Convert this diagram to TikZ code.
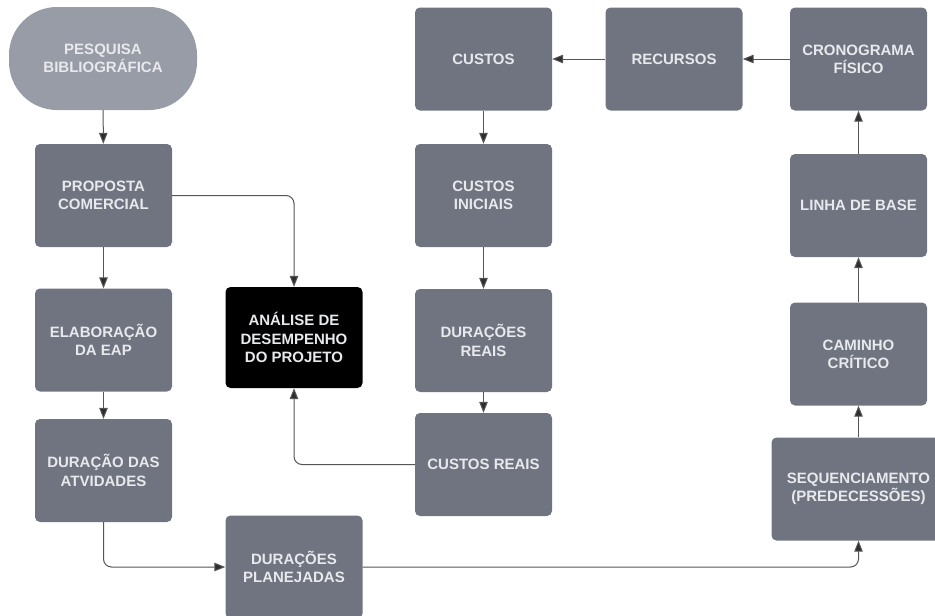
\documentclass[tikz,border=0pt]{standalone}
\usepackage{fontspec}
\setmainfont{Liberation Sans}
\usetikzlibrary{arrows.meta}
\definecolor{boxgray}{HTML}{6F7480}
\definecolor{startgray}{HTML}{979CA6}
\definecolor{boxtext}{HTML}{E8E9EC}
\definecolor{linkgray}{HTML}{555555}
\definecolor{tipgray}{HTML}{2E2E2E}
\begin{document}
\begin{tikzpicture}[x=1pt,y=-1pt,
  stepbox/.style={rectangle, rounded corners=5pt, fill=boxgray, text=boxtext,
    minimum width=137pt, minimum height=103pt, inner sep=0pt, align=center,
    font=\fontsize{15}{18.3}\selectfont\bfseries},
  startbox/.style={stepbox, fill=startgray, rounded corners=48pt, minimum width=188pt},
  keybox/.style={stepbox, fill=black, minimum height=101pt},
  link/.style={draw=linkgray, line width=1pt, rounded corners=8pt,
    -{Triangle[length=11pt,width=8.5pt,fill=tipgray]}}
]
\useasboundingbox (0,0) rectangle (935,616);

% left column
\node[startbox] (pesq) at (103,58.5) {PESQUISA\\BIBLIOGRÁFICA};
\node[stepbox] (prop) at (103.5,195.5) {PROPOSTA\\COMERCIAL};
\node[stepbox] (elab) at (103.5,340) {ELABORAÇÃO\\DA EAP};
\node[stepbox] (dura) at (103.5,470.5) {DURAÇÃO DAS\\ATVIDADES};

% second column
\node[keybox] (anal) at (294,337.5) {ANÁLISE DE\\DESEMPENHO\\DO PROJETO};
\node[stepbox] (plan) at (294,567) {DURAÇÕES\\PLANEJADAS};

% cost column
\node[stepbox] (cust) at (483.5,59) {CUSTOS};
\node[stepbox] (cini) at (483.5,195.5) {CUSTOS\\INICIAIS};
\node[stepbox] (dreal) at (483.5,340.5) {DURAÇÕES\\REAIS};
\node[stepbox] (creal) at (483.5,464.5) {CUSTOS REAIS};

% resources and schedule
\node[stepbox] (recu) at (674,59) {RECURSOS};
\node[stepbox] (cron) at (858.5,59) {CRONOGRAMA\\FÍSICO};
\node[stepbox] (lbase) at (858.5,205.5) {LINHA DE BASE};
\node[stepbox] (camin) at (858.5,354) {CAMINHO\\CRÍTICO};
\node[stepbox, minimum width=174pt] (seq) at (858.5,489) {SEQUENCIAMENTO\\(PREDECESSÕES)};

% connectors
\draw[link] (pesq) -- (prop);
\draw[link] (prop) -- (elab);
\draw[link] (elab) -- (dura);
\draw[link] (prop.east) -| (anal.north);
\draw[link] (creal.west) -| (anal.south);
\draw[link] (dura.south) |- (plan.west);
\draw[link] (plan.east) -| (seq.south);
\draw[link] (seq) -- (camin);
\draw[link] (camin) -- (lbase);
\draw[link] (lbase) -- (cron);
\draw[link] (cron) -- (recu);
\draw[link] (recu) -- (cust);
\draw[link] (cust) -- (cini);
\draw[link] (cini) -- (dreal);
\draw[link] (dreal) -- (creal);
\end{tikzpicture}
\end{document}
